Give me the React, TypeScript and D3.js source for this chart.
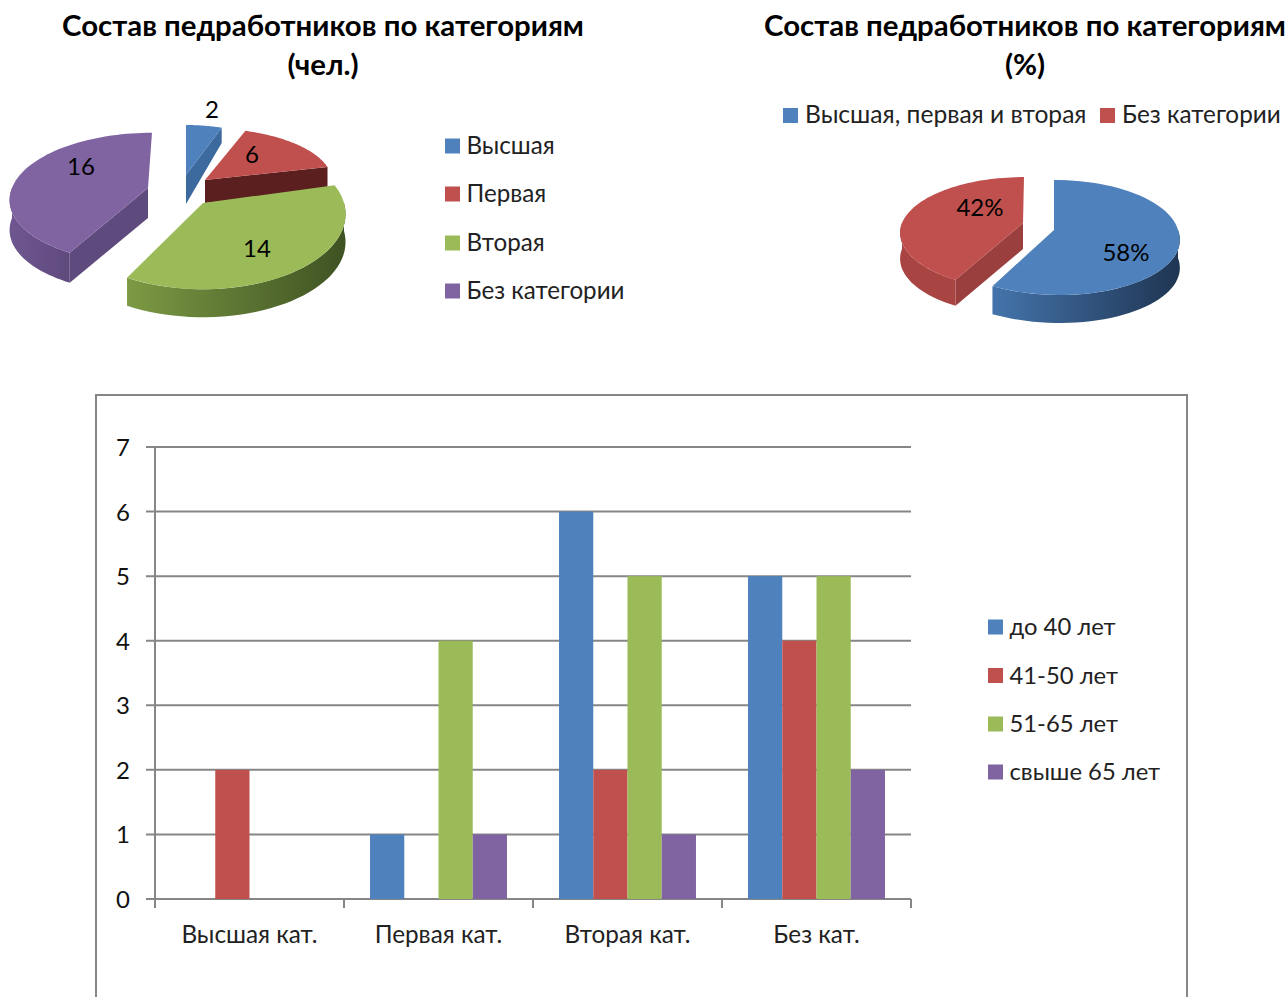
import React from "react";
import * as d3 from "d3";

const FONT = "Lato, Carlito, 'Open Sans', sans-serif";

const staffCategories = ["Высшая", "Первая", "Вторая", "Без категории"];
const staffCounts = [2, 6, 14, 16];
const shareCategories = ["Высшая, первая и вторая", "Без категории"];
const shareValues = [58, 42];
const barCategories = ["Высшая кат.", "Первая кат.", "Вторая кат.", "Без кат."];
const ageGroups = ["до 40 лет", "41-50 лет", "51-65 лет", "свыше 65 лет"];
const ageUnder40 = [0, 1, 6, 5];
const age41to50 = [2, 0, 2, 4];
const age51to65 = [0, 4, 5, 5];
const ageOver65 = [0, 1, 1, 2];
const yTicks = [0, 1, 2, 3, 4, 5, 6, 7];

const top = ["#4f81bd", "#c0504d", "#9bbb59", "#8064a2"];

type Shade = { radial: string; light: string; dark: string };
type Geo = { cx: number; cy: number; rx: number; ry: number; p: number; d: number; q: number; kn: number; kf: number; radialEdge?: "start" | "end"; shade: Shade };

const leftGeo: Geo[] = [
  { cx: 186, cy: 175, rx: 110, ry: 50, p: 0, d: 29, q: 0.5, kn: 0, kf: 0, radialEdge: "end", shade: { radial: "#3d6a9e", light: "#4474ab", dark: "#1f3552" } },
  { cx: 205, cy: 180, rx: 127, ry: 53, p: 0.02, d: 23, q: 0.1, kn: 0, kf: 0, radialEdge: "end", shade: { radial: "#5c1f1f", light: "#a84543", dark: "#5c1f1f" } },
  { cx: 203, cy: 203, rx: 141, ry: 75, p: 0.15, d: 28, q: 0, kn: 0, kf: 0, shade: { radial: "#5e7536", light: "#7c9a44", dark: "#3e5222" } },
  { cx: 148, cy: 188, rx: 136, ry: 65, p: 0.15, d: 30, q: 0, kn: 5.7, kf: 4, radialEdge: "start", shade: { radial: "#5f4a7d", light: "#6f5690", dark: "#5f4a7d" } },
];
const rightGeo: Geo[] = [
  { cx: 1054, cy: 230, rx: 124, ry: 57.5, p: 0.13, d: 28, q: 0, kn: -5.7, kf: 0, shade: { radial: "#3d6a9e", light: "#4474ab", dark: "#1f3552" } },
  { cx: 1023, cy: 223, rx: 121, ry: 56, p: 0.18, d: 26, q: 0, kn: 0, kf: 1, radialEdge: "start", shade: { radial: "#9a3f3d", light: "#a84543", dark: "#a84543" } },
];

const leftLabels = [[212, 110], [252, 155], [257, 249], [81, 167]];
const rightLabels = [[1126, 253], [980, 208]];
const leftPaintOrder = [0, 1, 3, 2];
const rightPaintOrder = [1, 0];

function Slice({ g, a0, a1, i, id }: { g: Geo; a0: number; a1: number; i: number; id: string }) {
  const pt = (t: number): [number, number] => {
    const c = Math.cos(t);
    const s = 1 - g.p * c;
    return [g.cx + Math.sin(t) * g.rx * s + g.kn * Math.min(c, 0) + g.kf * Math.max(c, 0), g.cy - c * g.ry * s];
  };
  const depth = (t: number) => g.d * (1 - g.q * Math.cos(t));
  const line = d3.line();
  const steps = d3.range(0, 61).map((k) => a0 + ((a1 - a0) * k) / 60);
  const rim = steps.map(pt);
  const topPath = line([[g.cx, g.cy], ...rim])! + "Z";

  const wStart = Math.max(a0, Math.PI / 2);
  const wEnd = Math.min(a1, (3 * Math.PI) / 2);
  let wallPath: string | null = null;
  let xs: number[] = [0, 1];
  if (wEnd > wStart) {
    const ws = d3.range(0, 41).map((k) => wStart + ((wEnd - wStart) * k) / 40);
    const upper = ws.map(pt);
    const lower = ws.slice().reverse().map((t) => {
      const [x, y] = pt(t);
      return [x, y + depth(t)] as [number, number];
    });
    wallPath = line([...upper, ...lower])! + "Z";
    xs = d3.extent(upper.map((q) => q[0])) as number[];
  }
  let radialPath: string | null = null;
  if (g.radialEdge) {
    const t = g.radialEdge === "start" ? a0 : a1;
    const [x, y] = pt(t);
    radialPath = line([[g.cx, g.cy], [x, y], [x, y + depth(t)], [g.cx, g.cy + g.d]])! + "Z";
  }
  return (
    <g>
      <defs>
        <linearGradient id={id} gradientUnits="userSpaceOnUse" x1={xs[0]} x2={xs[1]} y1={0} y2={0}>
          <stop offset="0" stopColor={g.shade.light} />
          <stop offset="1" stopColor={g.shade.dark} />
        </linearGradient>
      </defs>
      {radialPath && <path d={radialPath} fill={g.shade.radial} />}
      {wallPath && <path d={wallPath} fill={`url(#${id})`} />}
      <path d={topPath} fill={top[i]} />
    </g>
  );
}

function Pie3D({ values, geo, order, labels, texts, prefix }: { values: number[]; geo: Geo[]; order: number[]; labels: number[][]; texts: string[]; prefix: string }) {
  const arcs = d3.pie<number>().sort(null)(values);
  return (
    <g>
      {order.map((i) => (
        <Slice key={i} g={geo[i]} a0={arcs[i].startAngle} a1={arcs[i].endAngle} i={i} id={`${prefix}${i}`} />
      ))}
      {texts.map((t, i) => (
        <text key={i} x={labels[i][0]} y={labels[i][1] - 0.5} dy="0.35em" textAnchor="middle" fontSize={24} fill="#000">{t}</text>
      ))}
    </g>
  );
}

function Legend({ items, x, ys, size }: { items: string[]; x: number; ys: number[]; size: number }) {
  return (
    <g>
      {items.map((t, i) => (
        <g key={t}>
          <rect x={x} y={ys[i] - 7.5} width={15} height={15} fill={top[i]} />
          <text x={x + 21.5} y={ys[i] - 0.3} dy="0.35em" fontSize={size} fill="#222">{t}</text>
        </g>
      ))}
    </g>
  );
}

export default function App() {
  const series = [ageUnder40, age41to50, age51to65, ageOver65];
  const y = d3.scaleLinear().domain([0, 7]).range([899, 447]);
  const x0 = d3.scaleBand<string>().domain(barCategories).range([155, 911]).padding(0);
  const x1 = d3.scaleBand<string>().domain(ageGroups).range([0, x0.bandwidth()]).paddingInner(0).paddingOuter(0.76);
  const boundaries = [...barCategories.map((c) => x0(c)!), 911];
  const gray = "#868686";
  return (
    <svg width={1288} height={997} viewBox="0 0 1288 997" style={{ position: "absolute", left: 0, top: 0, fontFamily: FONT, background: "#fff" }}>
      <g fontWeight={700} fontSize={29.4} textAnchor="middle" fill="#000">
        <text x={323} y={26} dy="0.35em">Состав педработников по категориям</text>
        <text x={323} y={65} dy="0.35em">(чел.)</text>
        <text x={1025} y={26} dy="0.35em">Состав педработников по категориям</text>
        <text x={1025} y={65} dy="0.35em">(%)</text>
      </g>

      <Pie3D values={staffCounts} geo={leftGeo} order={leftPaintOrder} labels={leftLabels} texts={staffCounts.map(String)} prefix="l" />
      <Legend items={staffCategories} x={445} ys={[146, 194, 243, 291]} size={24.2} />

      <Pie3D values={shareValues} geo={rightGeo} order={rightPaintOrder} labels={rightLabels} texts={shareValues.map((v) => `${v}%`)} prefix="r" />
      <g>
        <rect x={783} y={108} width={15} height={15} fill={top[0]} />
        <text x={805} y={114.7} dy="0.35em" fontSize={24.6} fill="#222">{shareCategories[0]}</text>
        <rect x={1100} y={108} width={15} height={15} fill={top[1]} />
        <text x={1122} y={114.7} dy="0.35em" fontSize={24.3} fill="#222">{shareCategories[1]}</text>
      </g>

      <rect x={96} y={395} width={1091} height={640} fill="#fff" stroke={gray} strokeWidth={2} />
      {yTicks.map((t) => (
        <g key={t}>
          <line x1={146} x2={911} y1={y(t)} y2={y(t)} stroke={gray} strokeWidth={2} />
          <text x={123} y={y(t) + 0.6} dy="0.35em" textAnchor="middle" fontSize={24} fill="#111">{t}</text>
        </g>
      ))}
      <line x1={155} x2={155} y1={447} y2={899} stroke={gray} strokeWidth={2} />
      {boundaries.map((b) => (
        <line key={b} x1={b} x2={b} y1={899} y2={908} stroke={gray} strokeWidth={2} />
      ))}
      {barCategories.map((c, ci) => (
        <g key={c}>
          {series.map((s, si) =>
            s[ci] > 0 ? (
              <rect key={si} x={x0(c)! + x1(ageGroups[si])!} y={y(s[ci])} width={x1.bandwidth()} height={y(0) - y(s[ci])} fill={top[si]} />
            ) : null
          )}
          <text x={x0(c)! + x0.bandwidth() / 2} y={934.8} dy="0.35em" textAnchor="middle" fontSize={24.3} fill="#222">{c}</text>
        </g>
      ))}
      <Legend items={ageGroups} x={988} ys={[627, 675.5, 724, 772]} size={23.8} />
    </svg>
  );
}
